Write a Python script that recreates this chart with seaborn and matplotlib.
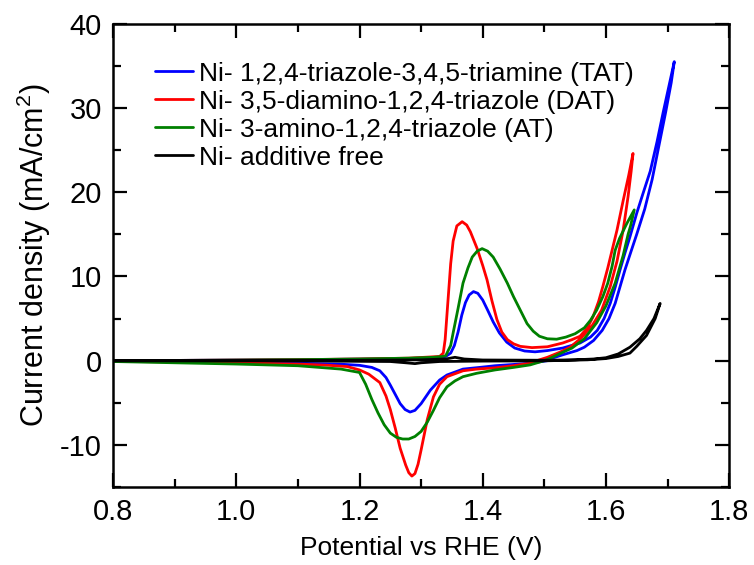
import numpy as np
import pandas as pd
import matplotlib
matplotlib.use("Agg")
import matplotlib.pyplot as plt
from matplotlib.ticker import MultipleLocator, FormatStrFormatter
import seaborn as sns

# Cyclic voltammograms: each curve is the anodic sweep (increasing potential)
# followed by the cathodic sweep back to 0.8 V.
tat_v = [0.80, 0.90, 1.00, 1.10, 1.20, 1.28, 1.32, 1.340, 1.348, 1.354, 1.360, 1.366, 1.372,
         1.378, 1.385, 1.392, 1.400, 1.408, 1.417, 1.427, 1.439, 1.452, 1.468, 1.485, 1.505,
         1.530, 1.558, 1.575, 1.586, 1.597, 1.607, 1.615, 1.623, 1.631, 1.639, 1.650, 1.660,
         1.672, 1.683, 1.693, 1.702, 1.711,
         1.706, 1.697, 1.686, 1.675, 1.663, 1.650, 1.640, 1.631, 1.623, 1.615, 1.605, 1.594,
         1.580, 1.565, 1.553, 1.530, 1.515, 1.505, 1.477, 1.450, 1.420, 1.395, 1.368, 1.342,
         1.330, 1.315, 1.300, 1.290, 1.282, 1.274, 1.266, 1.258, 1.250, 1.243, 1.233, 1.220,
         1.200, 1.170, 1.100, 1.000, 0.900, 0.800]
tat_j = [0.00, 0.03, 0.07, 0.12, 0.18, 0.26, 0.35, 0.50, 0.90, 1.80, 3.40, 5.40, 6.90,
         7.80, 8.20, 8.00, 7.20, 6.00, 4.60, 3.30, 2.20, 1.50, 1.15, 1.05, 1.20,
         1.50, 2.10, 2.80, 3.60, 5.00, 6.80, 8.70, 10.8, 12.8, 14.7, 17.5, 19.8,
         22.5, 26.0, 29.5, 32.5, 35.5,
         33.0, 29.5, 25.5, 21.5, 18.0, 15.0, 12.8, 10.8, 8.80, 6.80, 5.00, 3.60,
         2.40, 1.60, 1.20, 0.70, 0.35, 0.00, -0.30, -0.45, -0.60, -0.80, -1.00, -1.70,
         -2.30, -3.50, -5.10, -5.90, -6.10, -5.80, -5.10, -4.00, -2.90, -2.00, -1.20, -0.80,
         -0.55, -0.42, -0.30, -0.20, -0.12, -0.05]

dat_v = [0.80, 0.90, 1.00, 1.10, 1.20, 1.28, 1.33, 1.336, 1.339, 1.344, 1.348, 1.352, 1.358,
         1.3666, 1.374, 1.380, 1.391, 1.400, 1.407, 1.415, 1.423, 1.431, 1.440, 1.450, 1.461,
         1.480, 1.505, 1.530, 1.545, 1.558, 1.570, 1.579, 1.588, 1.595, 1.603, 1.610, 1.618,
         1.628, 1.637, 1.644,
         1.641, 1.636, 1.628, 1.618, 1.607, 1.593, 1.578, 1.560, 1.542, 1.525, 1.505, 1.490,
         1.477, 1.450, 1.420, 1.390, 1.368, 1.342, 1.330, 1.320, 1.310, 1.305, 1.300, 1.295,
         1.290, 1.285, 1.280, 1.275, 1.266, 1.258, 1.250, 1.243, 1.233, 1.215, 1.200, 1.180,
         1.150, 1.100, 1.000, 0.900, 0.800]
dat_j = [0.00, 0.03, 0.07, 0.12, 0.20, 0.30, 0.50, 0.90, 2.50, 7.50, 11.5, 14.2, 16.0,
         16.5, 16.1, 15.3, 13.3, 11.3, 9.60, 7.10, 4.90, 3.40, 2.50, 2.00, 1.70,
         1.55, 1.65, 2.10, 2.50, 2.90, 3.90, 5.20, 7.00, 8.80, 11.0, 13.1, 15.5,
         19.0, 22.0, 24.6,
         22.5, 19.5, 15.5, 11.8, 8.80, 6.00, 4.20, 2.70, 1.60, 1.00, 0.40, 0.05,
         -0.30, -0.60, -0.85, -1.00, -1.20, -1.90, -2.80, -4.30, -7.00, -8.80, -10.6, -12.3,
         -13.4, -13.7, -13.3, -12.4, -10.4, -8.00, -5.80, -4.20, -2.60, -1.60, -1.10, -0.70,
         -0.55, -0.40, -0.25, -0.15, -0.08]

at_v = [0.80, 0.90, 1.00, 1.10, 1.20, 1.28, 1.32, 1.335, 1.340, 1.348, 1.352, 1.360, 1.368,
        1.376, 1.383, 1.391, 1.399, 1.408, 1.417, 1.428, 1.440, 1.450, 1.461, 1.472, 1.482,
        1.492, 1.505, 1.520, 1.535, 1.550, 1.565, 1.575, 1.585, 1.595, 1.603, 1.610, 1.615,
        1.622, 1.634, 1.646,
        1.640, 1.636, 1.628, 1.615, 1.600, 1.585, 1.565, 1.545, 1.530, 1.510, 1.500, 1.477,
        1.450, 1.420, 1.390, 1.368, 1.355, 1.342, 1.330, 1.320, 1.310, 1.300, 1.290, 1.280,
        1.270, 1.260, 1.250, 1.240, 1.230, 1.220, 1.210, 1.200, 1.170, 1.100, 1.000, 0.900,
        0.800]
at_j = [0.00, 0.03, 0.07, 0.12, 0.20, 0.30, 0.40, 0.50, 0.60, 1.80, 3.30, 6.20, 9.20,
        11.0, 12.3, 13.0, 13.3, 13.0, 12.3, 10.9, 9.20, 7.60, 6.00, 4.40, 3.50,
        2.90, 2.60, 2.55, 2.80, 3.20, 3.90, 4.80, 6.00, 7.60, 9.20, 11.2, 13.1,
        14.5, 16.3, 17.9,
        16.0, 15.0, 12.5, 9.20, 6.50, 4.50, 2.60, 1.50, 1.00, 0.30, 0.00, -0.50,
        -0.80, -1.10, -1.50, -1.90, -2.40, -3.10, -4.40, -5.90, -7.30, -8.40, -9.00, -9.30,
        -9.30, -9.10, -8.60, -7.60, -6.20, -4.60, -2.80, -1.40, -1.00, -0.60, -0.40, -0.25,
        -0.10]

free_v = [0.80, 1.00, 1.20, 1.30, 1.340, 1.355, 1.370, 1.400, 1.500, 1.550, 1.580, 1.600,
          1.620, 1.639, 1.655, 1.666, 1.678, 1.688,
          1.680, 1.666, 1.650, 1.639, 1.620, 1.600, 1.570, 1.500, 1.400, 1.330, 1.300,
          1.290, 1.275, 1.250, 1.100, 0.800]
free_j = [0.00, 0.02, 0.05, 0.10, 0.20, 0.40, 0.20, 0.08, 0.05, 0.10, 0.20, 0.35,
          0.80, 1.60, 2.60, 3.60, 5.00, 6.80,
          5.00, 3.00, 1.70, 0.90, 0.50, 0.25, 0.10, -0.02, -0.05, -0.10, -0.25,
          -0.35, -0.25, -0.10, -0.03, -0.02]

labels = ["Ni- 1,2,4-triazole-3,4,5-triamine (TAT)",
          "Ni- 3,5-diamino-1,2,4-triazole (DAT)",
          "Ni- 3-amino-1,2,4-triazole (AT)",
          "Ni- additive free"]
colors = ["#0000ff", "#ff0000", "#008000", "#000000"]

frames = []
for lab, v, j in zip(labels, [tat_v, dat_v, at_v, free_v], [tat_j, dat_j, at_j, free_j]):
    frames.append(pd.DataFrame({"E": v, "j": j, "sample": lab, "step": np.arange(len(v))}))
df = pd.concat(frames, ignore_index=True)

sns.set_style("ticks")
plt.rcParams["font.family"] = ["Liberation Sans", "DejaVu Sans"]
plt.rcParams["mathtext.fontset"] = "custom"
plt.rcParams["mathtext.rm"] = "Liberation Sans"
plt.rcParams["mathtext.it"] = "Liberation Sans:italic"
plt.rcParams["axes.unicode_minus"] = False
plt.rcParams["text.color"] = "black"
plt.rcParams["axes.labelcolor"] = "black"
plt.rcParams["xtick.color"] = "black"
plt.rcParams["ytick.color"] = "black"

fig = plt.figure(figsize=(7.54, 5.65), dpi=100)
ax = fig.add_axes([0.150, 0.138, 0.817, 0.820])

sns.lineplot(data=df, x="E", y="j", hue="sample", hue_order=labels,
             palette=dict(zip(labels, colors)), units="sample", estimator=None,
             sort=False, linewidth=2.0, ax=ax)

ax.set_xlim(0.8, 1.8)
ax.set_ylim(-15, 40)
ax.xaxis.set_major_locator(MultipleLocator(0.2))
ax.xaxis.set_minor_locator(MultipleLocator(0.1))
ax.yaxis.set_major_locator(MultipleLocator(10))
ax.yaxis.set_minor_locator(MultipleLocator(5))
ax.xaxis.set_major_formatter(FormatStrFormatter("%.1f"))

for s in ax.spines.values():
    s.set_visible(True)
    s.set_linewidth(1.8)
    s.set_color("black")
ax.tick_params(which="both", direction="in", top=True, right=True, width=1.6,
               colors="black", labelsize=21, pad=8)
ax.tick_params(which="major", length=10)
ax.tick_params(which="minor", length=5.5)

ax.set_xlabel("Potential vs RHE (V)", fontsize=19, labelpad=7)
ax.set_ylabel("Current density (mA/cm$^2$)", fontsize=22, labelpad=5)

handles, labs = ax.get_legend_handles_labels()
leg = ax.legend(handles, labs, loc="upper left", bbox_to_anchor=(0.068, 0.918),
                frameon=False, fontsize=19, handlelength=1.45, handletextpad=0.2,
                labelspacing=0.15, borderpad=0, borderaxespad=0)
for ln in leg.get_lines():
    ln.set_linewidth(2.0)

fig.savefig("out.png", dpi=100)
